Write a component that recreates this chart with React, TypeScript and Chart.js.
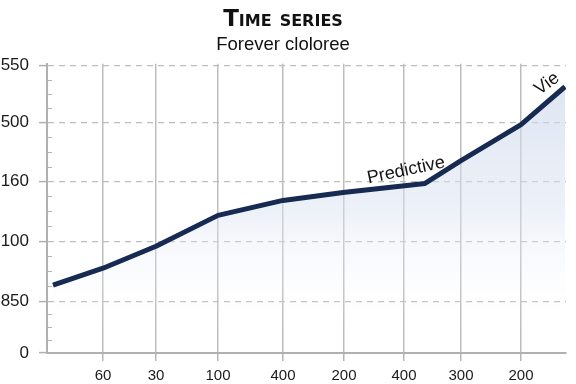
import React, { useEffect, useRef } from "react";
import { Chart, registerables } from "chart.js";

Chart.register(...registerables);

const titleText = "Time series";
const subtitleText = "Forever cloloree";

const xTickPositions = [0, 53, 115, 180, 241, 301, 358, 418];
const xTickLabels = ["60", "30", "100", "400", "200", "400", "300", "200"];

const yTickValues = [0, 52, 112, 172, 231, 288];
const yTickLabels = ["0", "850", "100", "160", "500", "550"];

const seriesX = [-50, 0, 53, 115, 180, 240, 322, 358, 418, 462];
const seriesY = [68, 85, 107, 138, 153, 161, 170, 193, 229, 267];

const annotationLabels = ["Predictive", "Vie"];
const annotationX = [303, 444];
const annotationY = [183, 270];
const annotationAngles = [-12, -36];

const minorTicksPlugin = {
  id: "minorTicks",
  beforeDatasetsDraw(chart: any) {
    const ys = chart.scales.y;
    const ctx = chart.ctx;
    const left = chart.chartArea.left;
    ctx.save();
    ctx.strokeStyle = "#b5b5b5";
    ctx.lineWidth = 1;
    for (let i = 0; i < yTickValues.length - 1; i++) {
      const a = yTickValues[i];
      const b = yTickValues[i + 1];
      for (let k = 1; k < 4; k++) {
        const v = a + ((b - a) * k) / 4;
        const py = Math.round(ys.getPixelForValue(v)) + 0.5;
        ctx.beginPath();
        ctx.moveTo(left, py);
        ctx.lineTo(left + 5, py);
        ctx.stroke();
      }
    }
    ctx.restore();
  },
};

const annotationPlugin = {
  id: "lineAnnotations",
  afterDatasetsDraw(chart: any) {
    const ctx = chart.ctx;
    const xs = chart.scales.x;
    const ys = chart.scales.y;
    ctx.save();
    ctx.fillStyle = "#141414";
    ctx.font = "18px 'Liberation Sans', Arial, sans-serif";
    ctx.textAlign = "center";
    ctx.textBaseline = "middle";
    annotationLabels.forEach((t, i) => {
      const px = xs.getPixelForValue(annotationX[i]);
      const py = ys.getPixelForValue(annotationY[i]);
      ctx.save();
      ctx.translate(px, py);
      ctx.rotate((annotationAngles[i] * Math.PI) / 180);
      ctx.fillText(t, 0, 0);
      ctx.restore();
    });
    ctx.restore();
  },
};

export default function App() {
  const canvasRef = useRef<HTMLCanvasElement | null>(null);

  useEffect(() => {
    if (!canvasRef.current) return;
    const chart = new Chart(canvasRef.current, {
      type: "line",
      data: {
        datasets: [
          {
            label: "Series",
            data: seriesX.map((x, i) => ({ x, y: seriesY[i] })),
            borderColor: "#172a52",
            borderWidth: 5,
            borderCapStyle: "butt",
            borderJoinStyle: "round",
            pointRadius: 0,
            tension: 0,
            fill: "start",
            backgroundColor: (ctx: any) => {
              const c = ctx.chart;
              const area = c.chartArea;
              if (!area) return "rgba(0,0,0,0)";
              const g = c.ctx.createLinearGradient(0, area.top, 0, area.bottom);
              g.addColorStop(0, "rgba(200,212,234,0.65)");
              g.addColorStop(0.5, "rgba(218,226,241,0.5)");
              g.addColorStop(0.92, "rgba(255,255,255,0)");
              return g;
            },
          },
        ],
      },
      options: {
        animation: false,
        responsive: false,
        layout: { padding: { top: 0, left: 0, right: 10, bottom: 0 } },
        plugins: {
          legend: { display: false },
          tooltip: { enabled: false },
          title: {
            display: true,
            text: titleText,
            color: "#111",
            font: {
              family: "'DejaVu Sans', sans-serif",
              size: 23,
              weight: "small-caps bold" as any,
            },
            padding: { top: 6, bottom: 0 },
          },
          subtitle: {
            display: true,
            text: subtitleText,
            color: "#111",
            font: { family: "'Liberation Sans', Arial, sans-serif", size: 18.5 },
            padding: { top: 0, bottom: 8 },
          },
        },
        scales: {
          x: {
            type: "linear",
            min: -56,
            max: 463,
            afterBuildTicks: (scale: any) => {
              scale.ticks = xTickPositions.map((v) => ({ value: v }));
            },
            afterFit: (scale: any) => {
              scale.height = 31;
            },
            ticks: {
              color: "#1a1a1a",
              padding: 6,
              maxRotation: 0,
              autoSkip: false,
              font: { family: "'Liberation Sans', Arial, sans-serif", size: 15 },
              callback: (_v: any, i: number) => xTickLabels[i],
            },
            grid: {
              color: "#bdbdbd",
              lineWidth: 1.5,
              tickLength: 8,
              tickColor: "#b5b5b5",
            },
            border: { color: "#b0b0b0", width: 2 },
          },
          y: {
            type: "linear",
            min: 0,
            max: 290,
            afterBuildTicks: (scale: any) => {
              scale.ticks = yTickValues.map((v) => ({ value: v }));
            },
            afterFit: (scale: any) => {
              scale.width = 47;
            },
            ticks: {
              color: "#1a1a1a",
              padding: 10,
              autoSkip: false,
              font: { family: "'Liberation Sans', Arial, sans-serif", size: 17 },
              callback: (_v: any, i: number) => yTickLabels[i],
            },
            grid: {
              color: "#bdbdbd",
              lineWidth: 1.2,
              tickLength: 8,
              tickColor: "#b0b0b0",
              tickWidth: 1.5,
            },
            border: { color: "#b0b0b0", width: 2, dash: [6, 5] },
          },
        },
      },
      plugins: [minorTicksPlugin, annotationPlugin],
    } as any);
    return () => chart.destroy();
  }, []);

  return (
    <div style={{ position: "absolute", left: 0, top: 0, width: 576, height: 384 }}>
      <canvas ref={canvasRef} width={576} height={384} />
    </div>
  );
}
